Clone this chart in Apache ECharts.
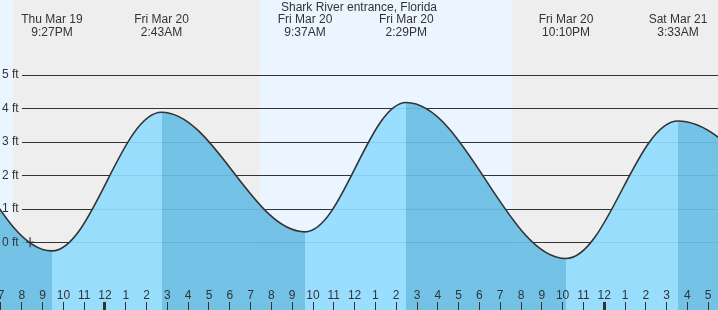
<!DOCTYPE html>
<html><head><meta charset="utf-8">
<script src="https://cdn.jsdelivr.net/npm/echarts@6/dist/echarts.min.js"></script>
<style>html,body{margin:0;padding:0;background:#eeeeee}#c{width:718px;height:310px}</style>
</head><body><div id="c"></div>
<script>
// ---------- data ----------
const stationName = 'Shark River entrance, Florida';
// high / low tide extremes (the first two and last two lie outside the visible window)
const tideTimes = ['2026-03-19T08:20','2026-03-19T14:10','2026-03-19T21:27','2026-03-20T02:43','2026-03-20T09:37','2026-03-20T14:29','2026-03-20T22:10','2026-03-21T03:33','2026-03-21T10:45','2026-03-21T16:20'];
const tideHeights = [0.3, 4.42, -0.26, 3.89, 0.31, 4.18, -0.49, 3.63, 0.73, 4.0];
// labelled extremes
const labelTimes = ['2026-03-19T21:27','2026-03-20T02:43','2026-03-20T09:37','2026-03-20T14:29','2026-03-20T22:10','2026-03-21T03:33'];
const labelDates = ['Thu Mar 19','Fri Mar 20','Fri Mar 20','Fri Mar 20','Fri Mar 20','Sat Mar 21'];
const labelClock = ['9:27PM','2:43AM','9:37AM','2:29PM','10:10PM','3:33AM'];
// daylight periods
const dayStarts = ['2026-03-19T07:28','2026-03-20T07:27'];
const dayEnds = ['2026-03-19T19:34','2026-03-20T19:35'];
// hour ticks, starting at Thu 7 PM
const hourTickTimes = ['2026-03-19T19:00','2026-03-21T05:00'];
const hourLabels = ['7','8','9','10','11','12','1','2','3','4','5','6','7','8','9','10','11','12','1','2','3','4','5','6','7','8','9','10','11','12','1','2','3','4','5'];
const midnights = ['2026-03-20T00:00','2026-03-21T00:00'];
const heightTicks = [0,1,2,3,4,5];
const heightLabels = ['0 ft','1 ft','2 ft','3 ft','4 ft','5 ft'];
const nowTime = '2026-03-19T20:24';
const nowHeight = 0;

// ---------- helpers ----------
const ORIGIN = new Date('2026-03-20T00:00').getTime();
const toH = s => (new Date(s).getTime() - ORIGIN) / 3600000;
const tideData = tideTimes.map((t, i) => [toH(t), tideHeights[i]]);
const labelH = labelTimes.map(toH);
const firstHour = Math.round(toH(hourTickTimes[0]));
const hourValues = hourLabels.map((_, i) => firstHour + i);
const midH = midnights.map(toH);

const X_MIN = -5.048, X_MAX = 29.471;
const Y_MIN = -2.0297, Y_MAX = 7.2504;
const LIGHT = '#92DCFF', DARK = '#69BEE4';
const TXT = '#333333';
const FONT = 'Liberation Sans';
const TICK_LEN = 8;

const pieces = [];
pieces.push({lt: tideData[0][0], color: DARK});
for (let i = 0; i < tideData.length - 1; i++) {
  pieces.push({gte: tideData[i][0], lt: tideData[i+1][0], color: tideData[i+1][1] > tideData[i][1] ? LIGHT : DARK});
}
pieces.push({gte: tideData[tideData.length-1][0], color: DARK});

const xBase = {type: 'value', gridIndex: 0, min: X_MIN, max: X_MAX, z: 10,
  axisLine: {show: false, onZero: false}, splitLine: {show: false}};

// tick marks drawn through the x scale of the chart
function tickRenderer(width) {
  return function (params, api) {
    const x = api.coord([api.value(0), Y_MIN])[0];
    const cs = params.coordSys;
    const yb = cs.y + cs.height;
    const xc = width % 2 === 1 ? Math.round(x - 0.5) + 0.5 : Math.round(x);
    return {type: 'line', z2: 100,
      shape: {x1: xc, y1: yb, x2: xc, y2: yb - TICK_LEN},
      style: {stroke: TXT, lineWidth: width}};
  };
}

const chart = echarts.init(document.getElementById('c'), null, {renderer: 'canvas'});
chart.setOption({
  animation: false,
  backgroundColor: '#eeeeee',
  textStyle: {fontFamily: FONT},
  title: {text: stationName, left: 'center', top: 2, padding: 0,
    textStyle: {fontSize: 12, fontWeight: 'normal', color: TXT, fontFamily: FONT, lineHeight: 12}},
  grid: [
    {left: 0, right: 0, top: 0, bottom: 0, containLabel: false, outerBoundsMode: 'none'},
    {left: 22, right: 0, top: 75.18, bottom: 67.8, containLabel: false, outerBoundsMode: 'none'}
  ],
  xAxis: [
    Object.assign({}, xBase, {position: 'bottom', axisTick: {show: false},
      axisLabel: {show: true, inside: true, margin: 8, customValues: hourValues, color: TXT, fontSize: 12, fontFamily: FONT,
        formatter: v => hourLabels[Math.round(v) - firstHour]}}),
    Object.assign({}, xBase, {position: 'top', axisTick: {show: false},
      axisLabel: {show: true, inside: true, margin: 13, customValues: labelH, color: TXT, fontSize: 12, fontFamily: FONT, lineHeight: 13, align: 'center',
        formatter: v => { const i = labelH.findIndex(h => Math.abs(h - v) < 1e-6); return i < 0 ? '' : labelDates[i] + '\n' + labelClock[i]; }}}),
    {type: 'value', gridIndex: 1, min: 0, max: 1, show: false}
  ],
  yAxis: [
    {type: 'value', gridIndex: 0, min: Y_MIN, max: Y_MAX, z: 10,
      axisLine: {show: false, onZero: false}, axisTick: {show: false}, splitLine: {show: false},
      axisLabel: {show: true, inside: true, margin: 2, customValues: heightTicks, color: TXT, fontSize: 12, fontFamily: FONT,
        formatter: v => heightLabels[heightTicks.indexOf(Math.round(v))]}},
    {type: 'value', gridIndex: 1, min: 0, max: 5, interval: 1, z: 2,
      axisLine: {show: false, onZero: false}, axisTick: {show: false}, axisLabel: {show: false},
      splitLine: {show: true, showMinLine: true, showMaxLine: true, lineStyle: {color: '#333333', width: 1}}}
  ],
  visualMap: {type: 'piecewise', show: false, dimension: 0, seriesIndex: 1, pieces: pieces},
  series: [
    {type: 'line', xAxisIndex: 0, yAxisIndex: 0, z: 1, data: [], silent: true,
      markArea: {silent: true, itemStyle: {color: '#ebf5ff'},
        data: dayStarts.map((s, i) => [{xAxis: toH(s)}, {xAxis: toH(dayEnds[i])}])}},
    {type: 'line', xAxisIndex: 0, yAxisIndex: 0, z: 3, data: tideData, showSymbol: false, silent: true,
      smooth: 0.3634, smoothMonotone: 'x',
      lineStyle: {color: '#333333', width: 1.6},
      areaStyle: {opacity: 0.92, origin: 'start'}},
    {type: 'scatter', xAxisIndex: 0, yAxisIndex: 0, z: 5, silent: true,
      data: [[toH(nowTime), nowHeight]],
      symbol: 'path://M3.25,0h1.5v10h-1.5zM0,4.25h8v1.5h-8z', symbolSize: [8, 10],
      itemStyle: {color: '#333333'}},
    {type: 'custom', xAxisIndex: 0, yAxisIndex: 0, z: 20, silent: true, clip: false,
      data: hourValues.map(h => [h, 0]), encode: {x: 0, y: 1},
      renderItem: tickRenderer(1)},
    {type: 'custom', xAxisIndex: 0, yAxisIndex: 0, z: 21, silent: true, clip: false,
      data: midH.map(h => [h, 0]), encode: {x: 0, y: 1},
      renderItem: tickRenderer(3)}
  ]
});
</script></body></html>
